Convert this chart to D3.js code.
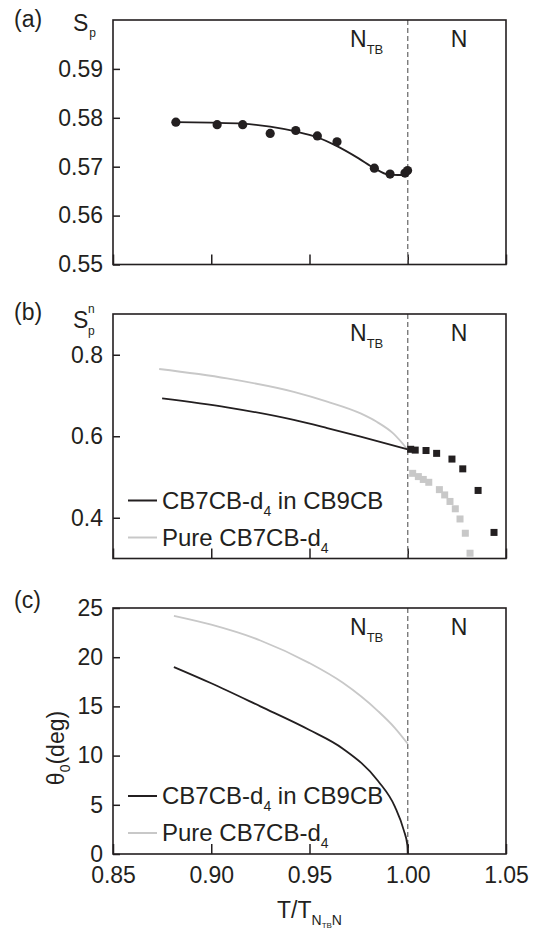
<!DOCTYPE html>
<html>
<head>
<meta charset="utf-8">
<script src="https://cdn.jsdelivr.net/npm/d3@7"></script>
<style>
body { margin: 0; background: #fff; }
svg text { font-family: "Liberation Sans", Arial, sans-serif; fill: #231f20; }
</style>
</head>
<body>
<svg width="539" height="930"></svg>
<script>
// x axis (reduced temperature), shared by all three panels
var xTickValues = [0.85, 0.90, 0.95, 1.00, 1.05];

// (a) S_p points and fitted curve
var spT = [0.882, 0.903, 0.916, 0.930, 0.943, 0.954, 0.964, 0.983, 0.991, 0.9986, 0.9999];
var spV = [0.5791, 0.5786, 0.5786, 0.5768, 0.5774, 0.5763, 0.5751, 0.5697, 0.5685, 0.5687, 0.5692];
var spFitT = [0.882, 0.900, 0.916, 0.930, 0.943, 0.954, 0.964, 0.975, 0.983, 0.990, 0.995, 1.000];
var spFitV = [0.5791, 0.5790, 0.5788, 0.5782, 0.5772, 0.5760, 0.5742, 0.5717, 0.5697, 0.5684, 0.5683, 0.5683];
var spTicks = [0.55, 0.56, 0.57, 0.58, 0.59];

// (b) S_p^n : curves in NTB, squares in N
var snMixT = [0.875, 0.908, 0.942, 0.959, 0.976, 1.000];
var snMixV = [0.693, 0.671, 0.640, 0.620, 0.599, 0.568];
var snPureT = [0.8735, 0.908, 0.942, 0.959, 0.976, 0.984, 0.9926, 0.9995];
var snPureV = [0.765, 0.742, 0.709, 0.685, 0.656, 0.636, 0.607, 0.570];
var sqMixT = [1.0015, 1.0038, 1.0093, 1.0147, 1.0225, 1.0280, 1.0358, 1.0439];
var sqMixV = [0.568, 0.566, 0.565, 0.558, 0.544, 0.520, 0.467, 0.364];
var sqPureT = [1.0025, 1.0054, 1.0079, 1.0107, 1.0161, 1.0188, 1.0215, 1.0242, 1.0266, 1.0293, 1.0317];
var sqPureV = [0.509, 0.501, 0.494, 0.487, 0.469, 0.456, 0.440, 0.422, 0.397, 0.362, 0.313];
var snTicks = [0.4, 0.6, 0.8];

// (c) theta_0 in degrees
var thMixT = [0.881, 0.900, 0.925, 0.950, 0.967, 0.985, 0.9935, 0.998, 0.9998, 1.000];
var thMixV = [19.0, 17.35, 15.0, 12.6, 10.7, 7.4, 4.8, 2.4, 0.9, 0];
var thPureT = [0.881, 0.900, 0.925, 0.950, 0.967, 0.985, 0.9935, 1.000];
var thPureV = [24.2, 23.3, 21.7, 19.4, 17.4, 14.5, 12.8, 11.2];
var thTicks = [0, 5, 10, 15, 20, 25];

var legendNames = ["CB7CB-d", "Pure CB7CB-d"];

var svg = d3.select("svg");
var ink = "#231f20", light = "#c8c8c8";

var x = d3.scaleLinear().domain([0.85, 1.05]).range([113, 506]);

function zip(a, b) { return a.map(function(v, i) { return [v, b[i]]; }); }

function panel(top, bottom, domain, ticks, fmt, showX) {
  var y = d3.scaleLinear().domain(domain).range([bottom, top]);
  var g = svg.append("g");

  var xa = d3.axisBottom(x).tickValues(xTickValues).tickSize(-10).tickPadding(13)
    .tickFormat(showX ? d3.format(".2f") : function() { return ""; });
  g.append("g").attr("transform", "translate(0," + bottom + ")").call(xa);

  var ya = d3.axisLeft(y).tickValues(ticks).tickSize(-7).tickPadding(10).tickFormat(fmt);
  g.append("g").attr("transform", "translate(113,0)").call(ya);

  g.selectAll(".domain").remove();
  g.selectAll(".tick line").attr("stroke", ink).attr("stroke-width", 1.5);
  g.selectAll(".tick text").attr("font-size", 23).attr("fill", ink)
    .style("font-family", '"Liberation Sans", Arial, sans-serif');

  g.append("line")
    .attr("x1", x(1)).attr("x2", x(1)).attr("y1", top).attr("y2", bottom)
    .attr("stroke", "#707070").attr("stroke-width", 1.3).attr("stroke-dasharray", "5,3");

  g.append("rect").attr("x", 113).attr("y", top)
    .attr("width", 506 - 113).attr("height", bottom - top)
    .attr("fill", "none").attr("stroke", ink).attr("stroke-width", 1.6);

  var t = g.append("text").attr("x", 350).attr("y", top + 27).attr("font-size", 23).text("N");
  t.append("tspan").attr("font-size", 13).attr("dy", 7).text("TB");
  g.append("text").attr("x", 459).attr("y", top + 27).attr("font-size", 23)
    .attr("text-anchor", "middle").text("N");

  return { g: g, y: y };
}

function curve(p, xs, ys, color, w) {
  var line = d3.line().x(function(d) { return x(d[0]); }).y(function(d) { return p.y(d[1]); })
    .curve(d3.curveMonotoneX);
  p.g.append("path").datum(zip(xs, ys)).attr("d", line)
    .attr("fill", "none").attr("stroke", color).attr("stroke-width", w);
}

function legend(p, bottom) {
  [ink, light].forEach(function(c, i) {
    var yy = bottom - 58 + i * 37;
    p.g.append("line").attr("x1", 128).attr("x2", 157).attr("y1", yy).attr("y2", yy)
      .attr("stroke", c).attr("stroke-width", 2);
    var t = p.g.append("text").attr("x", 162).attr("y", yy + 8).attr("font-size", 24).text(legendNames[i]);
    t.append("tspan").attr("font-size", 14).attr("dy", 7).text("4");
    if (i === 0) t.append("tspan").attr("dy", -7).text(" in CB9CB");
  });
}

// ---- (a)
var pa = panel(20, 264.5, [0.55, 0.60], spTicks, d3.format(".2f"), false);
curve(pa, spFitT, spFitV, ink, 1.8);
pa.g.selectAll("circle").data(zip(spT, spV)).enter().append("circle")
  .attr("cx", function(d) { return x(d[0]); }).attr("cy", function(d) { return pa.y(d[1]); })
  .attr("r", 4.6).attr("fill", ink);

// ---- (b)
var pb = panel(314, 558.5, [0.3, 0.9], snTicks, d3.format(".1f"), false);
curve(pb, snPureT, snPureV, light, 1.8);
curve(pb, snMixT, snMixV, ink, 1.8);
pb.g.selectAll("rect.sqp").data(zip(sqPureT, sqPureV)).enter().append("rect").attr("class", "sqp")
  .attr("x", function(d) { return x(d[0]) - 3.5; }).attr("y", function(d) { return pb.y(d[1]) - 3.5; })
  .attr("width", 7).attr("height", 7).attr("fill", light);
pb.g.selectAll("rect.sqm").data(zip(sqMixT, sqMixV)).enter().append("rect").attr("class", "sqm")
  .attr("x", function(d) { return x(d[0]) - 3.5; }).attr("y", function(d) { return pb.y(d[1]) - 3.5; })
  .attr("width", 7).attr("height", 7).attr("fill", ink);
legend(pb, 558.5);

// ---- (c)
var pc = panel(608, 854, [0, 25], thTicks, d3.format("d"), true);
curve(pc, thPureT, thPureV, light, 1.8);
curve(pc, thMixT, thMixV, ink, 1.8);
legend(pc, 854);

// panel letters and axis titles
[["(a)", 27], ["(b)", 320], ["(c)", 608]].forEach(function(d) {
  svg.append("text").attr("x", 14).attr("y", d[1]).attr("font-size", 23).text(d[0]);
});

var s1 = svg.append("text").attr("x", 73).attr("y", 31).attr("font-size", 23).text("S");
s1.append("tspan").attr("font-size", 12).attr("dy", 6).attr("dx", 1).text("p");

svg.append("text").attr("x", 73).attr("y", 328).attr("font-size", 23).text("S");
svg.append("text").attr("x", 88).attr("y", 313).attr("font-size", 12).text("n");
svg.append("text").attr("x", 88).attr("y", 335).attr("font-size", 12).text("p");

var th = svg.append("text").attr("transform", "translate(64,748) rotate(-90)")
  .attr("text-anchor", "middle").attr("font-size", 23).text("\u03b8");
th.append("tspan").attr("font-size", 14).attr("dy", 6).text("0");
th.append("tspan").attr("dy", -6).text("(deg)");

var xt = svg.append("text").attr("x", 309.5).attr("y", 918).attr("text-anchor", "middle")
  .attr("font-size", 23).text("T/T");
xt.append("tspan").attr("font-size", 14).attr("dy", 7).text("N");
xt.append("tspan").attr("font-size", 8).attr("dy", 3).text("TB");
xt.append("tspan").attr("font-size", 14).attr("dy", -3).text("N");
</script>
</body>
</html>
